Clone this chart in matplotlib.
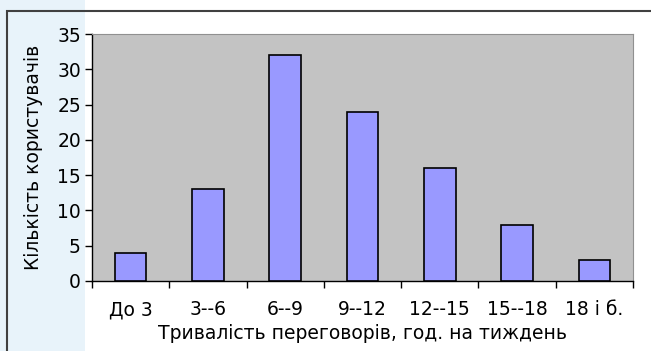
# Chart: number of users by weekly negotiation time

import matplotlib.pyplot as plt
from matplotlib.patches import Rectangle

# Data
categories = ['До 3', '3--6', '6--9', '9--12', '12--15', '15--18', '18 і б.']
users = [4, 13, 32, 24, 16, 8, 3]
y_ticks = [0, 5, 10, 15, 20, 25, 30, 35]

plt.rcParams['font.family'] = ['DejaVu Sans']
fs = 13.5

fig = plt.figure(figsize=(6.51, 3.51), dpi=100)
fig.patch.set_facecolor('white')

# pale blue strip on the left, like the page background
fig.patches.append(Rectangle((0, 0), 0.13, 1, transform=fig.transFigure,
                             facecolor='#e8f3fa', edgecolor='none', zorder=-2))
# outer chart frame
fig.patches.append(Rectangle((7/651, -0.1), 1.2, 1.1 - 11/351,
                             transform=fig.transFigure, facecolor='none',
                             edgecolor='#404040', linewidth=1.5, zorder=-1))

ax = fig.add_axes([92/651, 70/351, 541/651, 247/351])
ax.set_facecolor('#c3c3c3')

x = range(len(categories))
ax.bar(x, users, width=0.41, color='#9999ff', edgecolor='black', linewidth=1.2, zorder=3)

ax.set_xlim(-0.5, len(categories) - 0.5)
ax.set_ylim(0, 35)
ax.set_yticks(y_ticks)
ax.set_xticks(x)
ax.set_xticklabels(categories)
ax.set_xticks([i - 0.5 for i in range(len(categories) + 1)], minor=True)
ax.tick_params(axis='x', which='major', length=0, pad=14, labelsize=fs)
ax.tick_params(axis='x', which='minor', length=5, width=1, color='black')
ax.tick_params(axis='y', length=5, width=1, labelsize=fs, pad=3)

for side in ['top', 'right']:
    ax.spines[side].set_color('#909090')
for side in ['left', 'bottom']:
    ax.spines[side].set_color('black')
    ax.spines[side].set_linewidth(1)

ax.set_xlabel('Тривалість переговорів, год. на тиждень', fontsize=fs, labelpad=3)
ax.set_ylabel('Кількість користувачів', fontsize=fs, labelpad=10)

fig.savefig('out.png', dpi=100)
